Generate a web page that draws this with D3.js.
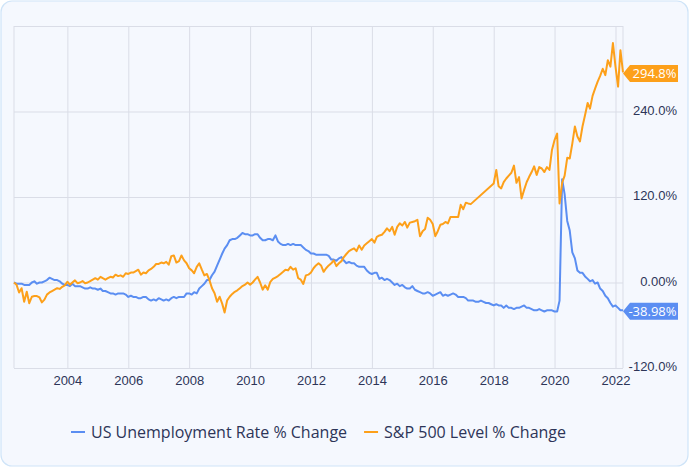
<!DOCTYPE html>
<html>
<head>
<meta charset="utf-8">
<script src="https://cdn.jsdelivr.net/npm/d3@7"></script>
<style>
  html, body { margin: 0; padding: 0; background: #ffffff; }
  svg { display: block; font-family: "Open Sans", "Noto Sans", sans-serif; }
</style>
</head>
<body>
<svg id="chart" width="690" height="468"></svg>
<script>
// ---- Data (monthly, first point = April 2002) ----
const firstMonth = "2002-04";
const seriesNames = ["US Unemployment Rate % Change", "S&P 500 Level % Change"];

const unemploymentChange = [
  0, -1.7, -1.7, -1.7, -3.4, -3.4, -3.4, 0, 1.7,
  -1.7, 0, 0, 1.7, 3.4, 6.8, 5.1, 3.4, 3.4, 1.7, -1.7, -3.4,
  -3.4, -5.1, -1.7, -5.1, -5.1, -5.1, -6.8, -8.5, -8.5, -6.8, -8.5, -8.5,
  -10.2, -8.5, -11.9, -11.9, -13.6, -15.3, -15.3, -16.9, -15.3, -15.3, -15.3, -16.9,
  -20.3, -18.6, -20.3, -20.3, -22.0, -22.0, -20.3, -20.3, -23.7, -25.4, -23.7, -25.4,
  -22.0, -23.7, -25.4, -23.7, -25.4, -22.0, -20.3, -22.0, -20.3, -20.3, -20.3, -15.3,
  -15.3, -16.9, -13.6, -15.3, -8.5, -5.1, -1.7, 3.4, 3.4, 10.2, 15.3, 23.7,
  32.2, 40.7, 47.5, 52.5, 59.3, 61.0, 61.0, 62.7, 66.1, 69.5, 67.8, 67.8,
  66.1, 66.1, 67.8, 67.8, 62.7, 59.3, 59.3, 61.0, 61.0, 59.3, 66.1, 57.6,
  54.2, 52.5, 52.5, 54.2, 52.5, 54.2, 52.5, 52.5, 52.5, 49.2, 45.8, 44.1,
  40.7, 40.7, 39.0, 39.0, 39.0, 39.0, 39.0, 37.3, 32.2, 32.2, 30.5, 33.9,
  35.6, 30.5, 27.1, 28.8, 27.1, 27.1, 23.7, 22.0, 22.0, 22.0, 16.9, 13.6,
  11.9, 13.6, 13.6, 5.1, 6.8, 3.4, 5.1, 3.4, 0, -3.4, -1.7, -5.1,
  -3.4, -6.8, -8.5, -8.5, -5.1, -10.2, -11.9, -13.6, -15.3, -15.3, -13.6, -15.3,
  -18.6, -16.9, -15.3, -13.6, -18.6, -16.9, -18.6, -16.9, -15.3, -16.9, -20.3, -20.3,
  -20.3, -22.0, -25.4, -25.4, -25.4, -27.1, -27.1, -25.4, -27.1, -28.8, -28.8, -30.5,
  -32.2, -30.5, -32.2, -32.2, -35.6, -32.2, -35.6, -35.6, -37.3, -35.6, -35.6, -33.9,
  -32.2, -35.6, -35.6, -37.3, -39.0, -39.0, -37.3, -39.0, -40.7, -39.0, -39.0, -39.0,
  -40.7, -40.7, -25.4, 145.0, 123.7, 86.4, 72.9, 42.4, 33.9, 16.9, 13.6, 13.6,
  8.5, 5.1, 1.7, 3.4, -1.7, 0, -8.5, -11.9, -18.6, -22.0, -28.8, -33.9,
  -32.2, -35.6, -39.0, -38.98
];

const sp500Change = [
  0, -3, -14, -8, -27, -13, -29, -20, -19,
  -19, -21, -28, -24, -17, -14, -12, -10, -8, -9, -6, -4,
  1, -3, 0, 3, -1, 0, 2, -1, 0, 2, 4, 6,
  4, 8, 6, 4, 6, 8, 7, 11, 9, 10, 8, 13,
  12, 14, 14, 16, 18, 11, 14, 13, 17, 19, 22, 26,
  26, 28, 27, 29, 25, 37, 38, 28, 30, 38, 31, 27,
  20, 17, 13, 22, 27, 18, 10, 12, 3, -8, -15, -27,
  -20, -30, -42, -25, -20, -16, -13, -11, -8, -5, -3, 0,
  -3, 0, 4, 8, 0, -10, -4, -10, 1, 5, 7, 9,
  12, 15, 18, 17, 22, 18, 20, 6, 4, -2, 10, 11,
  14, 20, 24, 27, 24, 15, 20, 24, 27, 31, 23, 27,
  30, 36, 40, 44, 46, 48, 44, 52, 46, 52, 55, 58,
  61, 56, 64, 66, 67, 71, 76, 72, 78, 67, 78, 83,
  80, 85, 77, 84, 85, 86, 88, 65, 72, 75, 91, 88,
  82, 65, 72, 81, 82, 85, 83, 92, 92, 92, 92, 109,
  103, 112, 111, 110, null, null, null, null, null, null, null, null,
  139, 158, 135, 132, 141, 146, 150, 154, 164, 140, 148, 118,
  130, 141, 148, 155, 163, 151, 162, 160, 155, 162, 158, 186,
  200, 209, 111, 140, 150, 175, 174, 195, 219, 205, 198, 219,
  235, 252, 244, 262, 272, 282, 290, 300, 291, 312, 303, 336,
  303, 275, 326, 294.8
];

const endLabels = ["-38.98%", "294.8%"];
const xTickYears = [2004, 2006, 2008, 2010, 2012, 2014, 2016, 2018, 2020, 2022];
const yTickValues = [-120, 0, 120, 240, 360];
const yTickLabels = ["-120.0%", "0.00%", "120.0%", "240.0%", ""];
const colors = ["#5b8ef2", "#fda01a"];

// ---- Layout ----
const W = 690, H = 468;
const plot = { left: 14, right: 623, top: 26, bottom: 368 };
const svg = d3.select("#chart");

svg.append("rect")
  .attr("x", 1).attr("y", 1).attr("width", W - 3).attr("height", H - 3)
  .attr("rx", 11).attr("ry", 11)
  .attr("fill", "#f5f8fe").attr("stroke", "#cfe4f8").attr("stroke-width", 1.2);

const start = d3.timeParse("%Y-%m")(firstMonth);
const dates = d3.range(unemploymentChange.length).map(i => d3.timeMonth.offset(start, i));

const x = d3.scaleTime()
  .domain([dates[0], dates[dates.length - 1]])
  .range([plot.left, plot.right]);
const y = d3.scaleLinear().domain([-120, 360]).range([plot.bottom, plot.top]);

const gridColor = "#dadde7";
const textColor = "#2d3558";

// x axis with vertical grid
const xAxis = svg.append("g")
  .attr("transform", `translate(0,${plot.bottom})`)
  .call(d3.axisBottom(x)
    .tickValues(xTickYears.map(yr => new Date(yr, 0, 1)))
    .tickSize(-(plot.bottom - plot.top))
    .tickPadding(8)
    .tickFormat(d3.timeFormat("%Y")));
xAxis.select(".domain").remove();
xAxis.selectAll(".tick line").attr("stroke", gridColor).attr("stroke-width", 1);
xAxis.selectAll(".tick text").attr("fill", textColor).style("font-size", "13px");

// y axis with horizontal grid
const yAxis = svg.append("g")
  .attr("transform", `translate(${plot.right},0)`)
  .call(d3.axisRight(y)
    .tickValues(yTickValues)
    .tickSize(-(plot.right - plot.left))
    .tickFormat((d, i) => yTickLabels[i]));
yAxis.select(".domain").remove();
yAxis.selectAll(".tick line").attr("stroke", gridColor).attr("stroke-width", 1);
yAxis.selectAll(".tick text")
  .attr("fill", textColor).style("font-size", "13px")
  .attr("text-anchor", "end").attr("x", 54).attr("dy", "0.2em");

// plot side borders
[plot.left, plot.right].forEach(px => {
  svg.append("line")
    .attr("x1", px).attr("x2", px).attr("y1", plot.top).attr("y2", plot.bottom)
    .attr("stroke", gridColor).attr("stroke-width", 1);
});

// lines
const series = [unemploymentChange, sp500Change].map((vals, k) => ({
  name: seriesNames[k],
  color: colors[k],
  points: vals.map((v, i) => ({ date: dates[i], v })).filter(p => p.v !== null)
}));

const line = d3.line().x(d => x(d.date)).y(d => y(d.v));

series.forEach(s => {
  svg.append("path")
    .datum(s.points)
    .attr("fill", "none")
    .attr("stroke", s.color)
    .attr("stroke-width", 2)
    .attr("stroke-linejoin", "round")
    .attr("d", line);
});

// end labels
series.forEach((s, k) => {
  const last = s.points[s.points.length - 1];
  const cy = y(last.v) + 1;
  const tip = x(last.date);
  const h = 8.5, right = 678;
  const g = svg.append("g");
  g.append("path")
    .attr("d", `M${tip},${cy} L${tip + 7},${cy - h} L${right},${cy - h} L${right},${cy + h} L${tip + 7},${cy + h} Z`)
    .attr("fill", s.color);
  g.append("text")
    .attr("x", 676.5).attr("y", cy).attr("dy", "0.36em")
    .attr("text-anchor", "end")
    .attr("fill", "#ffffff")
    .style("font-size", "13px")
    .text(endLabels[k]);
});

// legend
const legend = svg.append("g");
let cursor = 0;
series.forEach((s, k) => {
  const item = legend.append("g").attr("transform", `translate(${cursor},0)`);
  item.append("line")
    .attr("x1", 0).attr("x2", 14).attr("y1", 0).attr("y2", 0)
    .attr("stroke", s.color).attr("stroke-width", 2);
  const t = item.append("text")
    .attr("x", 20).attr("y", 0).attr("dy", "0.35em")
    .attr("fill", textColor)
    .style("font-size", "16px")
    .text(s.name);
  cursor += 20 + t.node().getComputedTextLength() + 17;
});
const legendWidth = cursor - 17;
const legendCenter = (plot.left + plot.right) / 2;
legend.attr("transform", `translate(${legendCenter - legendWidth / 2},432)`);
</script>
</body>
</html>
